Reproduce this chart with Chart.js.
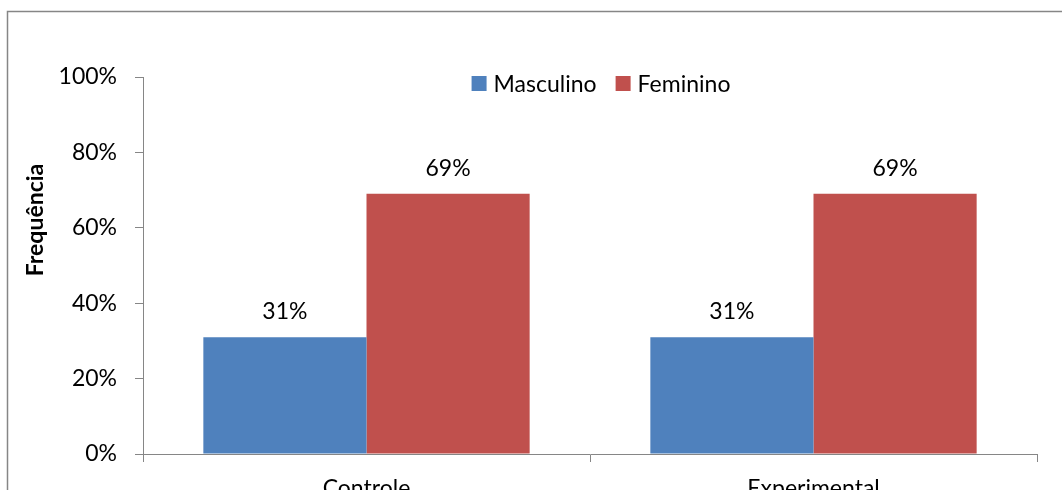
<!DOCTYPE html>
<html><head><meta charset="utf-8">
<script src="https://cdn.jsdelivr.net/npm/chart.js@4"></script>
<style>
html,body{margin:0;padding:0;overflow:hidden;background:#fff;width:1062px;height:490px}
canvas{display:block}
</style></head>
<body>
<canvas id="c" width="1062" height="530"></canvas>
<script>
const categories = ['Controle', 'Experimental'];
const seriesNames = ['Masculino', 'Feminino'];
const masculino = [31, 31];
const feminino = [69, 69];
const yTickValues = [0, 20, 40, 60, 80, 100];
const yTitle = 'Frequência';

const FONT = 'Lato';
const AXIS_COLOR = '#868686';

const frame = {
  id: 'frame',
  beforeDraw(chart) {
    const ctx = chart.ctx;
    ctx.save();
    ctx.fillStyle = '#fff';
    ctx.fillRect(0, 0, chart.width, chart.height);
    ctx.strokeStyle = AXIS_COLOR;
    ctx.lineWidth = 1.5;
    ctx.strokeRect(7.5, 11.5, 3000, 3000);
    ctx.restore();
  }
};

const extras = {
  id: 'extras',
  afterDatasetsDraw(chart) {
    const ctx = chart.ctx;
    ctx.save();
    // data labels
    ctx.fillStyle = '#000';
    ctx.font = '23px ' + FONT;
    ctx.textAlign = 'center';
    ctx.textBaseline = 'alphabetic';
    chart.data.datasets.forEach((ds, i) => {
      const meta = chart.getDatasetMeta(i);
      meta.data.forEach((bar, j) => {
        ctx.fillText(ds.data[j] + '%', bar.x, bar.y - 18);
      });
    });
    // y title
    ctx.save();
    ctx.font = 'bold 23px ' + FONT;
    ctx.translate(36, 220);
    ctx.rotate(-Math.PI / 2);
    ctx.textAlign = 'center';
    ctx.textBaseline = 'middle';
    ctx.fillText(yTitle, 0, 0);
    ctx.restore();
    // legend
    ctx.font = '23px ' + FONT;
    ctx.textBaseline = 'middle';
    ctx.textAlign = 'left';
    const box = 15, gap = 7, spacing = 19;
    const items = chart.data.datasets.map(ds => ({label: ds.label, color: ds.backgroundColor, w: ctx.measureText(ds.label).width}));
    let total = items.reduce((s, it) => s + box + gap + it.w, 0) + spacing * (items.length - 1);
    const ca = chart.chartArea;
    let x = (ca.left + ca.right) / 2 + 11 - total / 2;
    const cy = 83.5;
    items.forEach(it => {
      ctx.fillStyle = it.color;
      ctx.fillRect(x, cy - box / 2, box, box);
      ctx.fillStyle = '#000';
      ctx.fillText(it.label, x + box + gap, cy + 1);
      x += box + gap + it.w + spacing;
    });
    ctx.restore();
  }
};

new Chart(document.getElementById('c'), {
  type: 'bar',
  data: {
    labels: categories,
    datasets: [
      {label: seriesNames[0], data: masculino, backgroundColor: '#4F81BD', borderWidth: 0,
       categoryPercentage: 0.73, barPercentage: 1.0},
      {label: seriesNames[1], data: feminino, backgroundColor: '#C0504D', borderWidth: 0,
       categoryPercentage: 0.73, barPercentage: 1.0}
    ]
  },
  options: {
    responsive: false,
    animation: false,
    layout: {padding: {top: 77, right: 25, bottom: 0, left: 0}},
    plugins: {legend: {display: false}, tooltip: {enabled: false}, title: {display: false}},
    scales: {
      x: {
        type: 'category',
        offset: true,
        grid: {offset: true, drawOnChartArea: false, drawTicks: true, tickLength: 8, color: AXIS_COLOR},
        border: {color: AXIS_COLOR, width: 1},
        ticks: {font: {family: FONT, size: 23}, color: '#000', padding: 13, maxRotation: 0},
        afterFit(scale) { scale.height = 76; }
      },
      y: {
        min: 0, max: 100,
        afterBuildTicks(scale) { scale.ticks = yTickValues.map(v => ({value: v})); },
        grid: {drawOnChartArea: false, drawTicks: true, tickLength: 8, color: AXIS_COLOR},
        border: {color: AXIS_COLOR, width: 1},
        ticks: {font: {family: FONT, size: 23}, color: '#000', padding: 18,
                callback: v => v + '%'},
        afterFit(scale) { scale.width = 143; }
      }
    }
  },
  plugins: [frame, extras]
});
</script>
</body></html>
